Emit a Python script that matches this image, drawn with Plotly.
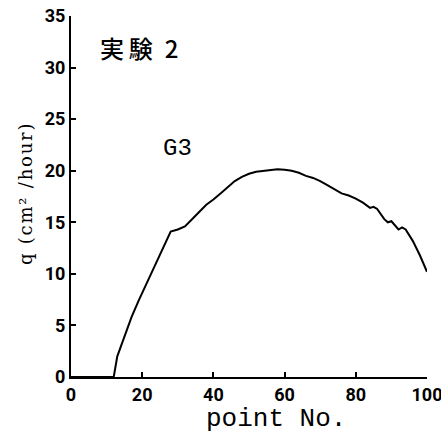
import plotly.graph_objects as go

# Data
point_no = [0, 5, 10, 12, 13, 15, 17, 19, 21, 23, 25, 27, 28, 30, 32, 34, 35, 36, 38,
            40, 42, 44, 46, 48, 50, 52, 54, 56, 58, 60, 62, 64, 66, 68, 70, 72, 74,
            76, 78, 80, 82, 84, 85, 86, 88, 89, 90, 92, 93, 94, 96, 98, 100]
q_values = [0, 0, 0, 0, 2.0, 4.0, 5.8, 7.4, 8.9, 10.3, 11.8, 13.3, 14.1, 14.3, 14.6,
            15.3, 15.7, 16.0, 16.7, 17.2, 17.8, 18.4, 19.0, 19.4, 19.7, 19.9, 20.0,
            20.1, 20.15, 20.1, 20.0, 19.8, 19.5, 19.3, 19.0, 18.6, 18.2, 17.8, 17.6,
            17.3, 16.9, 16.4, 16.5, 16.3, 15.3, 15.0, 15.1, 14.3, 14.5, 14.3, 13.2,
            11.8, 10.2]
x_ticks = [0, 20, 40, 60, 80, 100]
y_ticks = [0, 5, 10, 15, 20, 25, 30, 35]

title_text = "実\u2009験\u20022"
series_label = "G3"
x_title = "point No."
y_title = "q (cm² /hour)"

tick_font = dict(family="Roboto, sans-serif", size=18, color="black", weight="bold")

fig = go.Figure()
fig.add_trace(go.Scatter(x=point_no, y=q_values, mode="lines",
                         line=dict(color="black", width=2), showlegend=False,
                         cliponaxis=False))

axis_common = dict(ticks="inside", ticklen=5, tickwidth=1.5, tickcolor="black",
                   showline=True, linecolor="black", linewidth=2, showgrid=False,
                   zeroline=False, tickfont=tick_font, automargin=False,
                   ticklabeloverflow="allow")

fig.update_layout(
    width=441, height=435,
    margin=dict(l=71, r=14, t=16, b=58, autoexpand=False),
    paper_bgcolor="white", plot_bgcolor="white",
    xaxis=dict(range=[0, 100], tickvals=x_ticks, **axis_common),
    yaxis=dict(range=[0, 35], tickvals=y_ticks, **axis_common),
    annotations=[
        dict(text=title_text, xref="paper", yref="paper", x=0.191, y=0.913,
             showarrow=False, xanchor="center", yanchor="middle",
             font=dict(family="Noto Sans CJK JP", size=24, color="black", weight=500)),
        dict(text=series_label, xref="paper", yref="paper", x=0.299, y=0.632,
             showarrow=False, xanchor="center", yanchor="middle",
             font=dict(family="Liberation Mono", size=24, color="black")),
        dict(text=x_title, xref="paper", yref="paper", x=0.576, y=-0.115,
             showarrow=False, xanchor="center", yanchor="middle",
             font=dict(family="Liberation Mono", size=26, color="black")),
        dict(text="\u200a".join(y_title), xref="paper", yref="paper", x=-0.126, y=0.507,
             showarrow=False, xanchor="center", yanchor="middle", textangle=-90,
             font=dict(family="DejaVu Serif", size=18, color="black")),
    ],
)

fig.write_html("out.html", config={"displayModeBar": False},
               post_script="document.body.style.margin='0';document.body.style.overflow='hidden';")
